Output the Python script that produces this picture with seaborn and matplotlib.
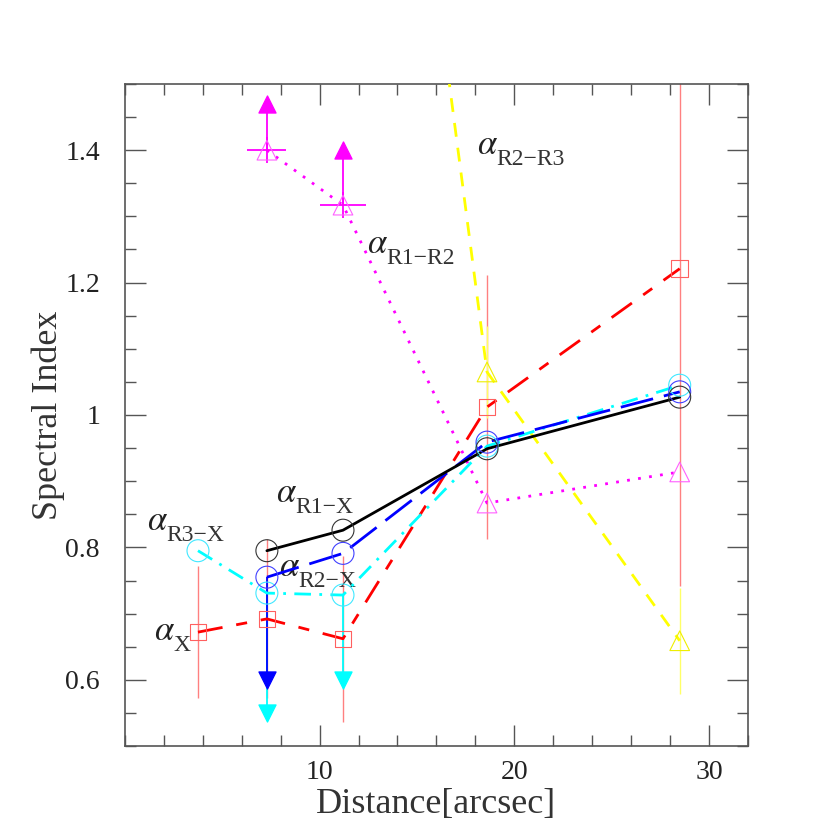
import seaborn as sns
import matplotlib.pyplot as plt
from matplotlib.ticker import MultipleLocator, FixedLocator, FuncFormatter

# distances of the regions [arcsec]
dist_x = [3.75, 7.29, 11.2, 18.6, 28.5]
dist_rx = [7.29, 11.2, 18.6, 28.5]
dist_r3x = [3.75, 7.29, 11.2, 18.6, 28.5]
dist_r1r2 = [7.29, 11.2, 18.6, 28.5]
dist_r2r3 = [11.2, 18.6, 28.5]

# spectral indices
alpha_x = [0.672, 0.692, 0.662, 1.012, 1.221]
alpha_x_err = [0.10, 0.12, 0.125, 0.20, 0.48]
alpha_r1x = [0.795, 0.826, 0.949, 1.027]
alpha_r2x = [0.755, 0.791, 0.959, 1.035]
alpha_r3x = [0.795, 0.731, 0.728, 0.953, 1.045]
alpha_r1r2 = [1.40, 1.317, 0.867, 0.914]
alpha_r1r2_xerr = [1.0, 1.2, 0.0, 0.0]
alpha_r1r2_yerr = [0.02, 0.02, 0.0, 0.0]
alpha_r2r3 = [2.73, 1.065, 0.659]
alpha_r2r3_err = [0.0, 0.069, 0.08]

# limits (arrows)
r2x_lim_x = [7.29]
r2x_lim_y = [0.60]
r3x_lim_x = [7.29, 11.2]
r3x_lim_y = [0.55, 0.60]
r1r2_lim_x = [7.29, 11.2]
r1r2_lim_y = [1.47, 1.40]

# series labels: subscript text and anchor (data coords)
label_subs = ["R2\u2212R3", "R1\u2212R2", "R1\u2212X", "R2\u2212X", "R3\u2212X", "X"]
label_x = [18.1, 12.45, 7.75, 7.9, 1.15, 1.5]
label_y = [1.395, 1.245, 0.868, 0.757, 0.826, 0.66]

sns.set_theme(style="ticks")
plt.rcParams["font.family"] = ["Liberation Serif", "DejaVu Serif"]
plt.rcParams["mathtext.fontset"] = "stix"

fig, ax = plt.subplots(figsize=(8.3, 8.3), dpi=100)
fig.subplots_adjust(left=0.1506, right=0.901, bottom=0.1012, top=0.8988)

# error bars
ax.errorbar(dist_x, alpha_x, yerr=alpha_x_err, fmt="none", ecolor="#ff8080", elinewidth=1.0, zorder=1)
ax.errorbar(dist_r2r3, alpha_r2r3, yerr=alpha_r2r3_err, fmt="none", ecolor="#ffff66", elinewidth=1.0, zorder=1)
ax.errorbar(dist_r1r2, alpha_r1r2, xerr=alpha_r1r2_xerr, yerr=alpha_r1r2_yerr, fmt="none",
            ecolor="#ff00ff", elinewidth=1.3, zorder=1)

# limit arrows with their stems
for xs, ys, base, c, mk in [
    (r3x_lim_x, r3x_lim_y, [alpha_r3x[1], alpha_r3x[2]], "#00ffff", "v"),
    (r2x_lim_x, r2x_lim_y, [alpha_r2x[0]], "#0000ff", "v"),
    (r1r2_lim_x, r1r2_lim_y, [alpha_r1r2[0], alpha_r1r2[1]], "#ff00ff", "^"),
]:
    ax.vlines(xs, base, ys, colors=c, linewidth=1.3, zorder=2)
    sns.scatterplot(x=xs, y=ys, marker=mk, s=150, color=c, edgecolor=c, ax=ax, zorder=3)

series = [
    (dist_x, alpha_x, "#ff0000", (0, (9, 5, 4, 5)), "s", "#ff6060", 140),
    (dist_r2r3, alpha_r2r3, "#ffff00", (0, (5, 4)), "^", "#eeee00", 200),
    (dist_r1r2, alpha_r1r2, "#ff00ff", (0, (1, 3)), "^", "#ff60ff", 200),
    (dist_r3x, alpha_r3x, "#00ffff", (0, (6, 3, 1, 3)), "o", "#40e8ff", 250),
    (dist_rx, alpha_r2x, "#0000ff", (0, (12, 4)), "o", "#4040ff", 250),
    (dist_rx, alpha_r1x, "#000000", "-", "o", "#333333", 250),
]
for xs, ys, c, ls, mk, mc, s in series:
    sns.lineplot(x=xs, y=ys, sort=False, color=c, linestyle=ls, linewidth=2.0, ax=ax, zorder=4)
    sns.scatterplot(x=xs, y=ys, marker=mk, s=s, facecolor="none", edgecolor=mc, linewidth=0.8, ax=ax, zorder=5)

# series labels: alpha plus lowered subscript
for sub, lx, ly in zip(label_subs, label_x, label_y):
    ax.text(lx, ly, r"$\alpha$", fontsize=25, color="#222222")
    ax.annotate(sub, (lx, ly), xytext=(14, -8), textcoords="offset points",
                fontsize=17, color="#333333")

ax.set_xlim(0, 32)
ax.set_ylim(0.5, 1.5)
ax.xaxis.set_major_locator(FixedLocator([10, 20, 30]))
ax.xaxis.set_minor_locator(MultipleLocator(2))
ax.yaxis.set_major_locator(MultipleLocator(0.2))
ax.yaxis.set_minor_locator(MultipleLocator(0.05))
ax.yaxis.set_major_formatter(FuncFormatter(lambda v, p: f"{v:g}"))
ax.tick_params(which="both", direction="in", top=True, right=True, colors="#555555",
               labelcolor="#222222", labelsize=20)
ax.tick_params(which="major", length=15, width=1.0, pad=10)
ax.tick_params(axis="y", which="major", pad=18)
ax.tick_params(which="minor", length=8, width=1.0)
for sp in ax.spines.values():
    sp.set_color("#555555")
    sp.set_linewidth(1.2)

ax.set_xlabel("Distance[arcsec]", fontsize=26, color="#333333", labelpad=2)
ax.set_ylabel("Spectral Index", fontsize=26, color="#333333", labelpad=0)

plt.savefig("out.png", dpi=100)
